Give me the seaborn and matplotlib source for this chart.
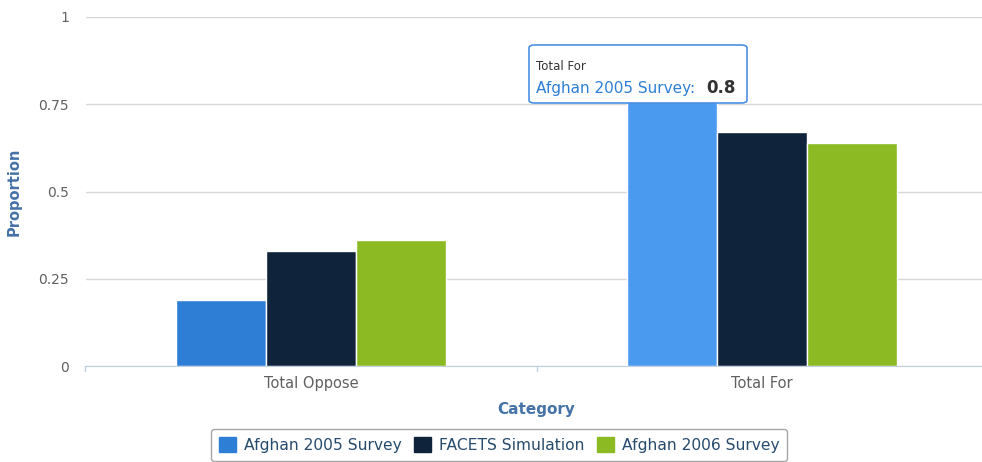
import matplotlib
matplotlib.use('Agg')
import matplotlib.pyplot as plt
import seaborn as sns
import pandas as pd
from matplotlib.patches import FancyBboxPatch, Patch

categories = ['Total Oppose', 'Total For']
series = ['Afghan 2005 Survey', 'FACETS Simulation', 'Afghan 2006 Survey']
afghan_2005 = [0.19, 0.8]
facets_sim = [0.33, 0.67]
afghan_2006 = [0.36, 0.64]
colors = ['#2e7ed6', '#0f233b', '#8bba22']
hover_color = '#4a9af0'
y_ticks = [0, 0.25, 0.5, 0.75, 1]
y_tick_labels = ['0', '0.25', '0.5', '0.75', '1']

rows = []
for name, vals in zip(series, [afghan_2005, facets_sim, afghan_2006]):
    for cat, v in zip(categories, vals):
        rows.append({'Category': cat, 'Series': name, 'Proportion': v})
df = pd.DataFrame(rows)

sns.set_style('white')
plt.rcParams['font.family'] = ['DejaVu Sans']

fig = plt.figure(figsize=(9.82, 4.62), dpi=100)
W, H = 982, 462
ax = fig.add_axes([85.5 / W, 1 - 366 / H, 902 / W, 349 / H])

sns.barplot(data=df, x='Category', y='Proportion', hue='Series', order=categories,
            hue_order=series, palette=colors, width=0.6, edgecolor='white',
            linewidth=1, saturation=1, ax=ax, legend=False)

# hovered bar is lighter
bars = [p for p in ax.patches if p.get_height() > 0]
bars[1].set_facecolor(hover_color)

ax.set_xlim(-0.5, 1.5)
ax.set_ylim(0, 1)
ax.set_yticks(y_ticks)
ax.set_yticklabels(y_tick_labels)
ax.yaxis.grid(True, color='#d8d8d8', linewidth=1)
ax.set_axisbelow(True)
for s in ['top', 'right', 'left']:
    ax.spines[s].set_visible(False)
ax.spines['bottom'].set_color('#c0d0e0')
ax.tick_params(axis='y', length=0, pad=12, labelsize=10, labelcolor='#606060')
ax.set_xticks([0, 1])
ax.set_xticklabels(categories)
ax.tick_params(axis='x', length=0, pad=7, labelsize=10.5, labelcolor='#606060')
# category boundary ticks
for xb in [-0.5, 0.5, 1.5]:
    ax.plot([xb, xb], [0, -0.015], color='#c0d0e0', lw=1, clip_on=False)

ax.set_xlabel('Category', fontsize=11, fontweight='bold', color='#4572a7', labelpad=8)
ax.set_ylabel('Proportion', fontsize=10.5, fontweight='bold', color='#4572a7')
ax.yaxis.set_label_coords((22 - 85.5) / 902, 0.5)

# tooltip
box = FancyBboxPatch((529 / W, 1 - 103 / H), 218 / W, 58 / H,
                     boxstyle='round,pad=0,rounding_size=0.006',
                     transform=fig.transFigure, facecolor='white',
                     edgecolor='#4a90e2', linewidth=1.2, zorder=10)
fig.patches.append(box)
fig.text(536 / W, 1 - 67 / H, 'Total For', fontsize=8.5, color='#333333',
         va='center', ha='left', zorder=11)
fig.text(536 / W, 1 - 88 / H, 'Afghan 2005 Survey: ', fontsize=11,
         color='#2e7ed6', va='center', ha='left', zorder=11)
fig.text(706 / W, 1 - 88 / H, '0.8', fontsize=12, fontweight='bold',
         color='#333333', va='center', ha='left', zorder=11)

# legend
handles = [Patch(facecolor=c, edgecolor=c) for c in colors]
leg = fig.legend(handles, series, ncol=3, loc='center', bbox_to_anchor=(499 / W, 1 - 445 / H),
                 frameon=True, fancybox=True, fontsize=11.2, handlelength=1.1,
                 handleheight=1.1, handletextpad=0.5, columnspacing=0.8,
                 borderpad=0.5, borderaxespad=0, edgecolor='#909090')
leg.get_frame().set_linewidth(1)
for txt in leg.get_texts():
    txt.set_color('#274b6d')

fig.savefig('out.png', dpi=100)
